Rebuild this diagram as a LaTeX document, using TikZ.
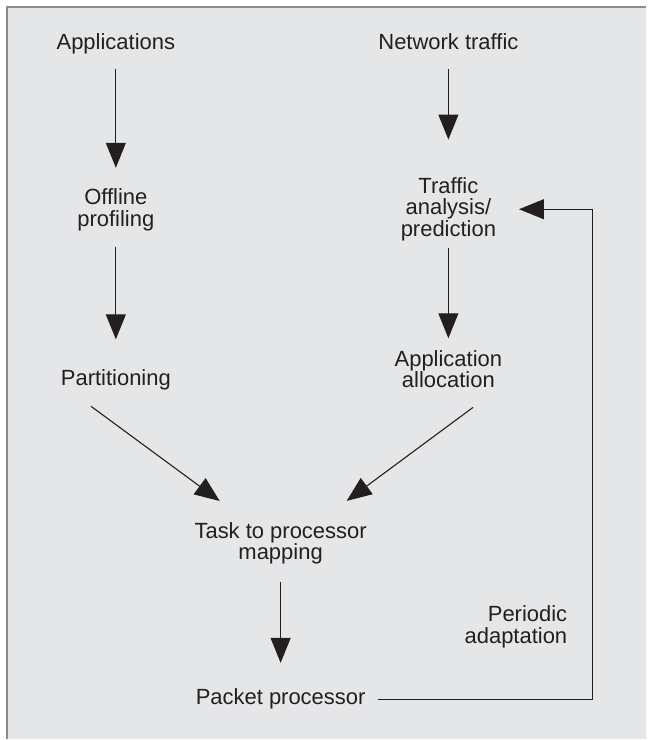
\documentclass[tikz,border=0pt]{standalone}
\usepackage{fontspec}
\setmainfont{Liberation Sans}
\usetikzlibrary{positioning,arrows.meta,calc}
\definecolor{panel}{RGB}{229,230,232}
\definecolor{rule}{RGB}{140,140,140}
\definecolor{ink}{RGB}{35,31,32}
\tikzset{
  stage/.style={inner sep=0pt, outer sep=0pt, align=center, text=ink,
    font=\fontsize{11}{10.75}\selectfont},
  flow/.style={draw=ink, line width=0.55pt,
    -{Triangle[length=12.5pt,width=10pt]}},
}

\begin{document}
\begin{tikzpicture}[x=0.5pt, y=-0.5pt, on grid]

  % Frame
  \fill[panel] (7,7) rectangle (647,740);
  \draw[rule, line width=1pt] (7,740) -- (7,7) -- (647,7);
  \useasboundingbox (0,0) rectangle (647,740);

  % Nodes
  \node[stage]                          (apps)     at (116,44) {Applications};
  \node[stage, below=83pt of apps]      (profile)  {Offline\\profiling};
  \node[stage, below=85pt of profile]   (part)     {Partitioning};
  \node[stage]                          (traffic)  at (449,42) {Network traffic};
  \node[stage, below=83.75pt of traffic] (analysis) {Traffic\\analysis/\\prediction};
  \node[stage, below=80pt of analysis]  (alloc)    {Application\\allocation};
  \node[stage]                          (mapping)  at (281,544) {Task to processor\\mapping};
  \node[stage, below=78pt of mapping]   (proc)     {Packet processor};
  \node[stage, align=right, anchor=east] (adapt)   at (568,627.5) {Periodic\\adaptation};
  \coordinate (turn) at (593,700);

  % Edges
  \draw[flow, shorten <=7.5pt, shorten >=10.5pt] (apps) -- (profile);
  \draw[flow, shorten <=8pt, shorten >=15pt] (profile) -- (part);
  \draw[flow, shorten <=9.5pt, shorten >=19pt] (traffic) -- (analysis);
  \draw[flow, shorten <=3.5pt, shorten >=6pt] (analysis) -- (alloc);
  \draw[flow, shorten <=14pt, shorten >=18pt]
    ([xshift=-23.7pt]part.south) -- ([xshift=-16pt]mapping.north);
  \draw[flow, shorten <=16.5pt, shorten >=18pt]
    ([xshift=25.6pt]alloc.south) -- ([xshift=18.6pt]mapping.north);
  \draw[flow, shorten <=9pt, shorten >=13pt] (mapping) -- (proc);

  % Feedback
  \draw[flow, shorten <=6.5pt, shorten >=11.5pt] (proc) -- (turn) |- (analysis);

\end{tikzpicture}
\end{document}
